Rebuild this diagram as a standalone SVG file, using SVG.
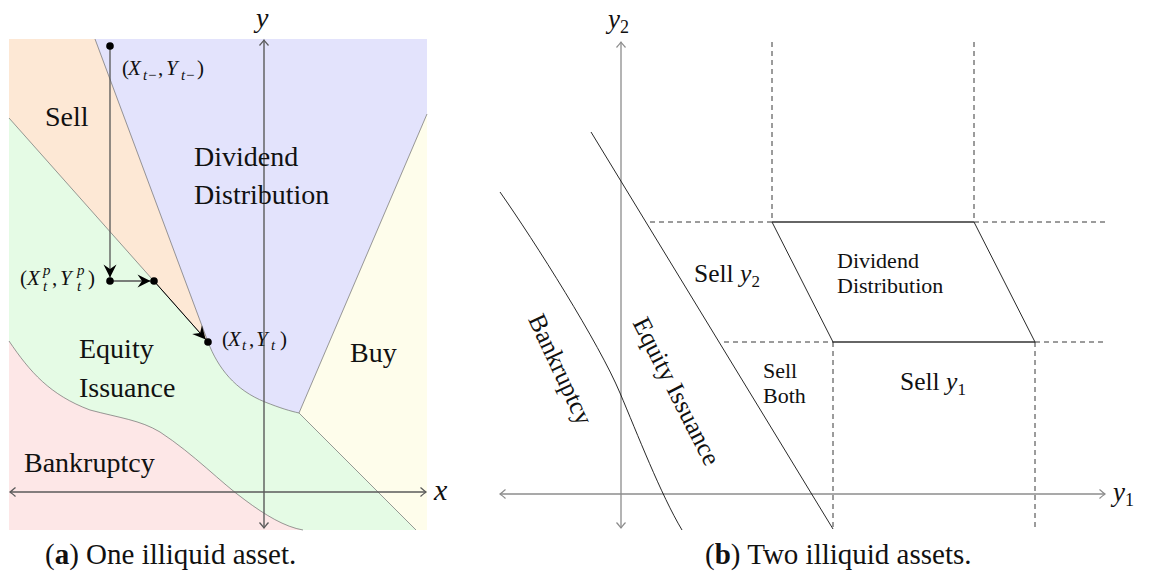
<svg xmlns="http://www.w3.org/2000/svg" width="1155" height="577" viewBox="0 0 1155 577">
<style>
text{font-family:"Liberation Serif","DejaVu Serif",serif;fill:#111}
.lbl{font-size:28px}
.cap{font-size:29px}
.rl{font-size:25.5px}
.sm{font-size:22px}
.m{font-style:italic}
.mt{font-size:21px}
.sub{font-size:15px}
.bd{fill:none;stroke:#555;stroke-width:0.6}
.axl{fill:none;stroke:#5a5a5a;stroke-width:1.4;marker-start:url(#toL);marker-end:url(#toL)}
.axr{fill:none;stroke:#8c8c8c;stroke-width:1.3;marker-start:url(#toR);marker-end:url(#toR)}
.ln{fill:none;stroke:#111;stroke-width:0.9}
.sol{fill:none;stroke:#333;stroke-width:1.3}
.ds{fill:none;stroke:#222;stroke-width:0.9;stroke-dasharray:5 4}
</style>
<defs>
<marker id="toL" viewBox="-7 -6 9 12" refX="0" refY="0" markerWidth="9" markerHeight="12" markerUnits="userSpaceOnUse" orient="auto-start-reverse">
<path d="M-5.5,-4.5 Q-1.5,-1 0,0 Q-1.5,1 -5.5,4.5" fill="none" stroke="#5a5a5a" stroke-width="1.3"/>
</marker>
<marker id="toR" viewBox="-7 -6 9 12" refX="0" refY="0" markerWidth="9" markerHeight="12" markerUnits="userSpaceOnUse" orient="auto-start-reverse">
<path d="M-5.5,-4.5 Q-1.5,-1 0,0 Q-1.5,1 -5.5,4.5" fill="none" stroke="#8c8c8c" stroke-width="1.2"/>
</marker>
<marker id="st" viewBox="-14 -8 15 16" refX="0" refY="0" markerWidth="15" markerHeight="16" markerUnits="userSpaceOnUse" orient="auto">
<path d="M0,0 L-13,-6.5 L-8.5,0 L-13,6.5 Z" fill="#000"/>
</marker>
</defs>

<!-- Panel (a) -->
<g id="panel-a">
<g id="region-sell">
<path d="M9,39 L95,39 L208,342 L9,118 Z" fill="#fde8d5"/>
</g>
<g id="region-dividend">
<path d="M95,39 L427,39 L427,114 L299,413 C290,411 280,408 265,402 C235,390 218,368 208,342 Z" fill="#e3e3fc"/>
</g>
<g id="region-buy">
<path d="M427,114 L427,530 L416,530 L299,413 Z" fill="#fefdeb"/>
</g>
<g id="region-equity">
<path d="M9,118 L208,342 C218,368 235,390 265,402 C280,408 290,411 299,413 L416,530 L303,530 C285,527 265,515 245,500 C220,482 195,455 160,432 C140,420 120,418 90,410 C50,395 30,372 9,341 Z" fill="#e5fbe5"/>
</g>
<g id="region-bankruptcy">
<path d="M9,341 C30,372 50,395 90,410 C120,418 140,420 160,432 C195,455 220,482 245,500 C265,515 285,527 303,530 L9,530 Z" fill="#fde7e7"/>
</g>
<g id="boundaries-a">
<path class="bd" d="M95,39 L208,342 C218,368 235,390 265,402 C280,408 290,411 299,413 L427,114"/>
<path class="bd" d="M9,118 L208,342"/>
<path class="bd" d="M299,413 L416,530"/>
<path class="bd" d="M9,341 C30,372 50,395 90,410 C120,418 140,420 160,432 C195,455 220,482 245,500 C265,515 285,527 303,530"/>
</g>
<g id="axes-a">
<line class="axl" x1="264" y1="528" x2="264" y2="40"/>
<line class="axl" x1="10" y1="492" x2="426" y2="492"/>
<text class="m" x="256" y="27" font-size="28">y</text>
<text class="m" x="434" y="500" font-size="30">x</text>
</g>
<g id="trajectory">
<line x1="110" y1="46" x2="110" y2="277.5" stroke="#555" stroke-width="1.3" marker-end="url(#st)"/>
<line x1="110" y1="281" x2="150.5" y2="281" stroke="#555" stroke-width="1.3" marker-end="url(#st)"/>
<line x1="154" y1="281" x2="205.7" y2="339.4" stroke="#000" stroke-width="1" marker-end="url(#st)"/>
<circle cx="110" cy="46" r="3.8" fill="#000"/>
<circle cx="110" cy="281" r="3.8" fill="#000"/>
<circle cx="154" cy="281" r="3.8" fill="#000"/>
<circle cx="208" cy="342" r="3.8" fill="#000"/>
</g>
<g id="point-labels">
<text class="mt"><tspan x="122" y="75">(</tspan><tspan class="m" x="128" y="75">X</tspan><tspan class="m sub" x="143" y="80">t</tspan><tspan class="sub" x="148" y="80">−</tspan><tspan x="158" y="75">,</tspan><tspan class="m" x="166" y="75">Y</tspan><tspan class="m sub" x="181" y="80">t</tspan><tspan class="sub" x="186" y="80">−</tspan><tspan x="197" y="75">)</tspan></text>
<text class="mt"><tspan x="20" y="285">(</tspan><tspan class="m" x="27" y="285">X</tspan><tspan class="m sub" x="43" y="275">p</tspan><tspan class="m sub" x="43" y="291">t</tspan><tspan x="52" y="285">,</tspan><tspan class="m" x="60" y="285">Y</tspan><tspan class="m sub" x="77" y="275">p</tspan><tspan class="m sub" x="77" y="291">t</tspan><tspan x="88" y="285">)</tspan></text>
<text class="mt"><tspan x="222" y="346">(</tspan><tspan class="m" x="228" y="346">X</tspan><tspan class="m sub" x="242" y="350">t</tspan><tspan x="249" y="346">,</tspan><tspan class="m" x="256" y="346">Y</tspan><tspan class="m sub" x="271" y="350">t</tspan><tspan x="280" y="346">)</tspan></text>
</g>
<g id="labels-a">
<text class="lbl" x="45" y="126">Sell</text>
<text class="lbl" x="194" y="166">Dividend</text>
<text class="lbl" x="194" y="204">Distribution</text>
<text class="lbl" x="79" y="358">Equity</text>
<text class="lbl" x="79" y="397">Issuance</text>
<text class="lbl" x="350" y="362">Buy</text>
<text class="lbl" x="24" y="472">Bankruptcy</text>
<text class="cap" x="45" y="564">(<tspan font-weight="bold">a</tspan>) One illiquid asset.</text>
</g>
</g>

<!-- Panel (b) -->
<g id="panel-b">
<g id="axes-b">
<line class="axr" x1="621" y1="528" x2="621" y2="42"/>
<line class="axr" x1="500" y1="494" x2="1105" y2="494"/>
<text class="m" x="608" y="28" font-size="27">y<tspan font-style="normal" font-size="18" dy="5">2</tspan></text>
<text class="m" x="1113" y="501" font-size="27">y<tspan font-style="normal" font-size="18" dy="5">1</tspan></text>
</g>
<g id="boundaries-b">
<path class="ln" d="M500,192 C535,242 599,343 620,393 C637,433 661,495 682,530"/>
<line class="ln" x1="591" y1="132" x2="833" y2="529"/>
<line class="ln" x1="772" y1="222" x2="833" y2="342"/>
<line class="ln" x1="974" y1="222" x2="1035" y2="342"/>
<line class="sol" x1="772" y1="222" x2="974" y2="222"/>
<line class="sol" x1="833" y1="342" x2="1035" y2="342"/>
</g>
<g id="dashed-b">
<line class="ds" x1="650" y1="222" x2="772" y2="222"/>
<line class="ds" x1="974" y1="222" x2="1106" y2="222"/>
<line class="ds" x1="724" y1="342" x2="833" y2="342"/>
<line class="ds" x1="1035" y1="342" x2="1106" y2="342"/>
<line class="ds" x1="772" y1="42" x2="772" y2="222"/>
<line class="ds" x1="974" y1="42" x2="974" y2="222"/>
<line class="ds" x1="833" y1="342" x2="833" y2="529"/>
<line class="ds" x1="1035" y1="342" x2="1035" y2="529"/>
</g>
<g id="labels-b">
<text class="rl" x="694" y="282">Sell <tspan class="m">y</tspan><tspan font-size="17" dy="5">2</tspan></text>
<text class="sm" x="837" y="268">Dividend</text>
<text class="sm" x="837" y="293">Distribution</text>
<text class="sm" x="763" y="378">Sell</text>
<text class="sm" x="763" y="403">Both</text>
<text class="rl" x="900" y="390">Sell <tspan class="m">y</tspan><tspan font-size="17" dy="5">1</tspan></text>
<text class="rl" text-anchor="middle" transform="translate(553,373) rotate(65)" font-size="26">Bankruptcy</text>
<text class="rl" text-anchor="middle" transform="translate(669,395) rotate(63)" font-size="26.5">Equity Issuance</text>
<text class="cap" x="705" y="564">(<tspan font-weight="bold">b</tspan>) Two illiquid assets.</text>
</g>
</g>
</svg>
